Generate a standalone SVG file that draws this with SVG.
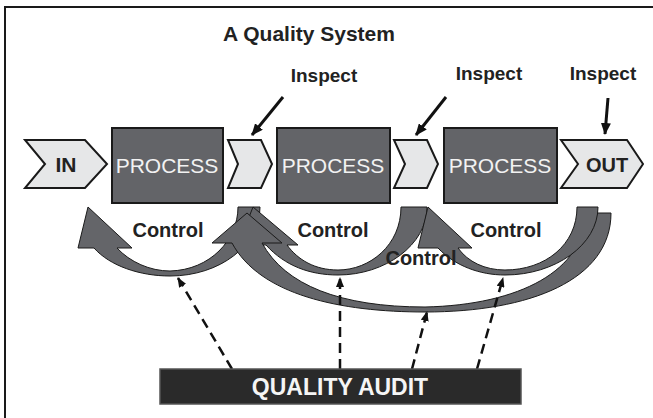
<svg xmlns="http://www.w3.org/2000/svg" width="653" height="418" viewBox="0 0 653 418">
<defs>
<marker id="ah" viewBox="0 0 12 10" refX="11" refY="5" markerWidth="12" markerHeight="10" markerUnits="userSpaceOnUse" orient="auto"><path d="M0,0 L12,5 L0,10 Z" fill="#111"/></marker>
<marker id="dh" viewBox="0 0 10 8" refX="9" refY="4" markerWidth="10" markerHeight="8" markerUnits="userSpaceOnUse" orient="auto"><path d="M0,0 L10,4 L0,8 Z" fill="#111"/></marker>
<style>
.t{font-family:"Liberation Sans",Arial,sans-serif;font-weight:bold;fill:#222;text-anchor:middle}
.box{fill:#636468;stroke:#1a1a1a;stroke-width:2}
.pt{font-family:"Liberation Sans",Arial,sans-serif;font-size:21px;fill:#f2f2f2;text-anchor:middle}
.chev{fill:#e6e7e8;stroke:#1a1a1a;stroke-width:2;stroke-linejoin:miter}
.arc{fill:#646569;stroke:#1a1a1a;stroke-width:1;stroke-linejoin:miter}
.insp{stroke:#111;stroke-width:3;fill:none}
.dash{stroke:#111;stroke-width:2.5;fill:none;stroke-dasharray:10 6}
</style>
</defs>
<rect x="5" y="7" width="700" height="500" fill="#fff" stroke="#1a1a1a" stroke-width="2"/>
<text class="t" x="309" y="41" font-size="21">A Quality System</text>

<g id="in"><path class="chev" d="M25,140 L85,140 L107,164 L85,188 L25,188 L45,164 Z"/><text class="t" x="66" y="172" font-size="21">IN</text></g>
<g id="process1"><rect class="box" x="112" y="128" width="111" height="75"/><text class="pt" x="167" y="173">PROCESS</text></g>
<g id="inspect1"><path class="chev" d="M228,140 L261,140 L272,164 L261,188 L228,188 L238,164 Z"/></g>
<g id="process2"><rect class="box" x="277" y="128" width="113" height="75"/><text class="pt" x="333" y="173">PROCESS</text></g>
<g id="inspect2"><path class="chev" d="M394,140 L427,140 L438,164 L427,188 L394,188 L405,164 Z"/></g>
<g id="process3"><rect class="box" x="444" y="128" width="113" height="75"/><text class="pt" x="500" y="173">PROCESS</text></g>
<g id="out"><path class="chev" d="M561,140 L627,140 L643,164 L627,188 L561,188 L578,164 Z"/><text class="t" x="607" y="172" font-size="20">OUT</text></g>

<g id="inspect-labels">
<text class="t" x="324" y="82" font-size="19">Inspect</text>
<text class="t" x="489" y="80" font-size="19">Inspect</text>
<text class="t" x="603" y="80" font-size="19">Inspect</text>
</g>

<g id="connectors">
<line class="insp" x1="283" y1="97" x2="252" y2="135" marker-end="url(#ah)"/>
<line class="insp" x1="446" y1="97" x2="416" y2="135" marker-end="url(#ah)"/>
<line class="insp" x1="608" y1="98" x2="605" y2="134" marker-end="url(#ah)"/>

<path class="arc" d="M238,207 C238,240 210,270 170,271 C150,271 130,262 117,248 L132,248 L88,207 L78,248 L94,248 C110,266 140,276 170,276 C220,276 260,245 260,207 Z"/>
<path class="arc" d="M401,207 C401,245 370,270 338,270 C315,270 298,260 287,245 L298,245 L253,207 L238,245 L266,245 C285,266 310,275 338,275 C385,275 427,245 427,207 Z"/>
<path class="arc" d="M585,213 C585,270 520,305 425,307 C340,307 285,285 262,243 L282,243 L247,213 L212,243 L232,243 C260,295 340,312 425,312 C530,312 611,280 611,213 Z"/>
<path class="arc" d="M577,207 C577,245 545,270 505,270 C485,270 468,262 458,248 L472,248 L428,207 L418,248 L438,248 C455,266 480,275 505,275 C555,275 598,245 598,207 Z"/>

<line class="dash" x1="232" y1="369" x2="178" y2="278" marker-end="url(#dh)"/>
<line class="dash" x1="340" y1="369" x2="340" y2="278" marker-end="url(#dh)"/>
<line class="dash" x1="412" y1="369" x2="427" y2="312" marker-end="url(#dh)"/>
<line class="dash" x1="477" y1="369" x2="503" y2="278" marker-end="url(#dh)"/>
</g>

<g id="control-labels">
<text class="t" x="168" y="237" font-size="20">Control</text>
<text class="t" x="333" y="237" font-size="20">Control</text>
<text class="t" x="506" y="237" font-size="20">Control</text>
<text class="t" x="421" y="265" font-size="20">Control</text>
</g>

<g id="audit"><rect x="160" y="369" width="361" height="35" fill="#2a2a2a" stroke="#555" stroke-width="1.5"/><text x="340" y="395" font-family="Liberation Sans, Arial, sans-serif" font-weight="bold" font-size="23" fill="#f5f5f5" text-anchor="middle">QUALITY AUDIT</text></g>
</svg>
